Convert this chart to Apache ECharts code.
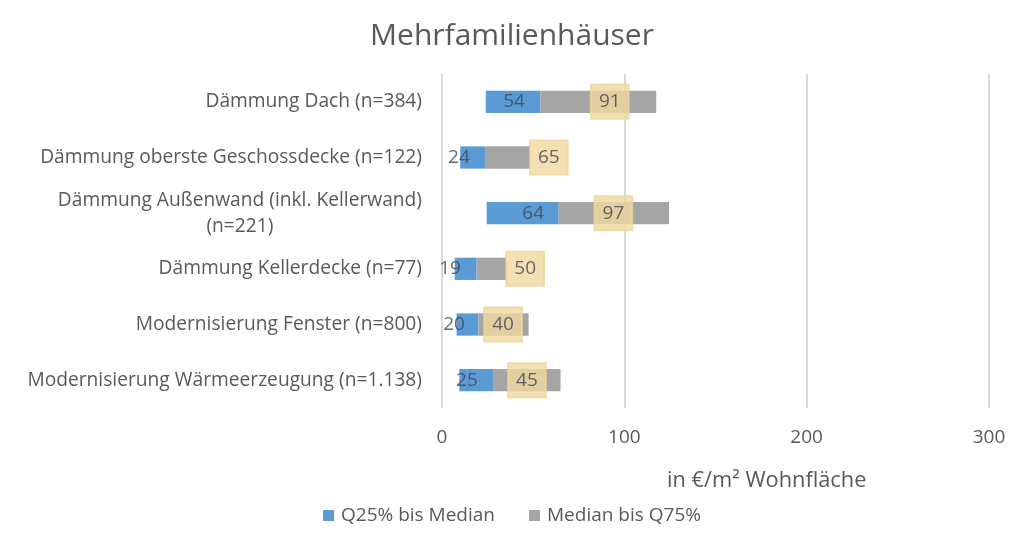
<!DOCTYPE html>
<html><head><meta charset="utf-8">
<script src="https://cdn.jsdelivr.net/npm/echarts@6/dist/echarts.min.js"></script>
<style>html,body{margin:0;padding:0;background:#fff}#c{width:1024px;height:542px}</style>
</head><body><div id="c"></div>
<script>
var categories = ['Dämmung Dach (n=384)', 'Dämmung oberste Geschossdecke (n=122)', 'Dämmung Außenwand (inkl. Kellerwand)\n(n=221)', 'Dämmung Kellerdecke (n=77)', 'Modernisierung Fenster (n=800)', 'Modernisierung Wärmeerzeugung (n=1.138)'];
var q25 = [24, 10, 24.5, 7, 8, 9.5];
var median = [54, 24, 64, 19, 20, 28];
var q75 = [117.5, 48.5, 124.5, 35.5, 47.5, 65];
var medianText = [54, 24, 64, 19, 20, 25];
var medianLabelPos = [39.5, 9.3, 50, 4.4, 6.6, 13.7];
var meanText = [91, 65, 97, 50, 40, 45];
var meanLabelPos = [92, 58.6, 94, 45.6, 33.5, 46.6];
var xTicks = [0, 100, 200, 300];

var FONT = 'Open Sans';
var FS = 19.2;
var TXT = '#595959';
var ctx = document.createElement('canvas').getContext('2d');
ctx.font = FS + 'px "' + FONT + '"';
var wrapW = 0;
categories.forEach(function (c) { if (c.indexOf('\n') >= 0) { wrapW = ctx.measureText(c.split('\n')[0]).width; } });

var blueVals = median.map(function (m, i) { return +(m - q25[i]).toFixed(2); });
var grayVals = q75.map(function (v, i) { return +(v - median[i]).toFixed(2); });

var chart = echarts.init(document.getElementById('c'));
chart.setOption({
  animation: false,
  textStyle: { fontFamily: FONT, color: TXT },
  title: { text: 'Mehrfamilienhäuser', left: 'center', top: 16, textStyle: { fontFamily: FONT, fontSize: 30, fontWeight: 'normal', color: TXT } },
  grid: { left: 442, right: 35, top: 74, bottom: 134 },
  legend: {
    bottom: 12, left: 'center', itemWidth: 11, itemHeight: 11, itemGap: 34, icon: 'rect',
    data: ['Q25% bis Median', 'Median bis Q75%'],
    textStyle: { fontFamily: FONT, fontSize: 19, color: TXT, padding: [0, 0, 0, 2] }
  },
  xAxis: {
    type: 'value', min: 0, max: 300, interval: 100,
    axisLine: { show: false }, axisTick: { show: false },
    splitLine: { lineStyle: { color: '#D9D9D9', width: 2 } },
    axisLabel: { fontFamily: FONT, fontSize: 19, color: TXT, margin: 20,
      formatter: function (v) { return xTicks.indexOf(v) >= 0 ? String(v) : ''; } }
  },
  yAxis: {
    type: 'category', inverse: true, data: categories,
    axisLine: { show: false }, axisTick: { show: false },
    axisLabel: {
      fontFamily: FONT, fontSize: FS, color: TXT, margin: 20, lineHeight: 26,
      formatter: function (v) {
        if (v.indexOf('\n') < 0) return v;
        var p = v.split('\n');
        return '{a|' + p[0] + '}\n{b|' + p[1] + '}';
      },
      rich: {
        a: { fontFamily: FONT, fontSize: FS, color: TXT, lineHeight: 26 },
        b: { fontFamily: FONT, fontSize: FS, color: TXT, lineHeight: 26, width: wrapW, align: 'center' }
      }
    }
  },
  graphic: [{ type: 'text', left: 667, top: 470, style: { text: 'in €/m² Wohnfläche', font: '21.8px "' + FONT + '"', fill: TXT } }],
  series: [
    { name: 'base', type: 'bar', stack: 's', data: q25, barWidth: '40%', itemStyle: { color: 'transparent' }, silent: true },
    { name: 'Q25% bis Median', type: 'bar', stack: 's', data: blueVals, itemStyle: { color: '#5B9BD5' } },
    { name: 'Median bis Q75%', type: 'bar', stack: 's', data: grayVals, itemStyle: { color: '#A5A5A5' } },
    { name: 'medLbl', type: 'scatter', symbolSize: 0, z: 5,
      data: medianLabelPos.map(function (x, i) { return [x, i, medianText[i]]; }),
      label: { show: true, position: 'inside', fontFamily: FONT, fontSize: 19, color: '#404552',
        formatter: function (p) { return p.data[2]; } } },
    { name: 'meanLbl', type: 'scatter', symbolSize: 0, z: 6,
      data: meanLabelPos.map(function (x, i) { return [x, i, meanText[i]]; }),
      label: { show: true, position: 'inside', fontFamily: FONT, fontSize: 19, color: '#404552',
        backgroundColor: '#F1D9A0', borderColor: '#EBD398', borderWidth: 1, padding: [8, 8, 7, 8],
        formatter: function (p) { return p.data[2]; } } }
  ]
});
</script></body></html>
